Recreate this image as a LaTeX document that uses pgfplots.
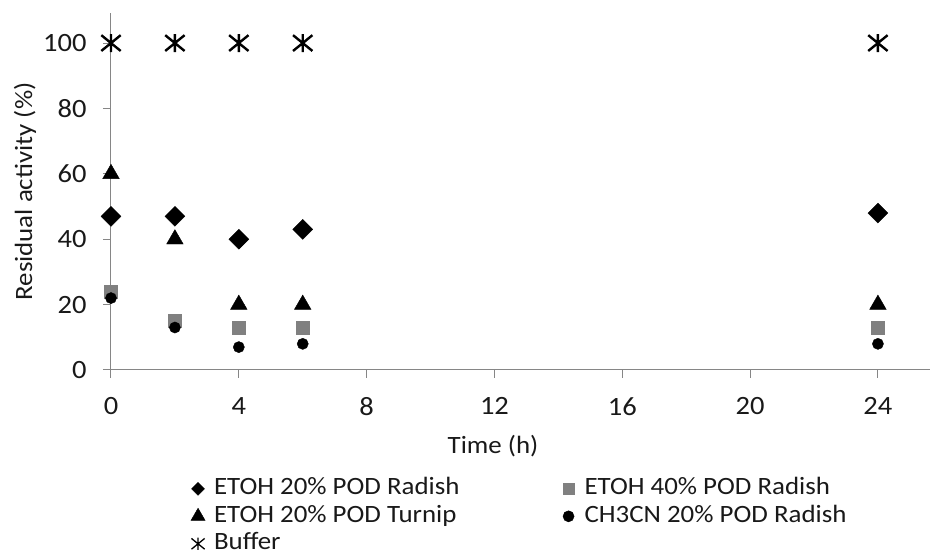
\documentclass[border=0pt]{standalone}
\usepackage{pgfplots}
\pgfplotsset{compat=1.18}
\usepackage{fontspec}
\setmainfont{Carlito}[FakeStretch=1.08]
\definecolor{axgray}{RGB}{134,134,134}
\definecolor{sqgray}{RGB}{128,128,128}
\definecolor{txt}{RGB}{25,25,25}
\pgfdeclareplotmark{buf}{%
  \pgfpathmoveto{\pgfqpoint{0pt}{\pgfplotmarksize}}%
  \pgfpathlineto{\pgfqpoint{0pt}{-\pgfplotmarksize}}%
  \pgfpathmoveto{\pgfqpoint{-1.08\pgfplotmarksize}{0.88\pgfplotmarksize}}%
  \pgfpathlineto{\pgfqpoint{1.08\pgfplotmarksize}{-0.88\pgfplotmarksize}}%
  \pgfpathmoveto{\pgfqpoint{-1.08\pgfplotmarksize}{-0.88\pgfplotmarksize}}%
  \pgfpathlineto{\pgfqpoint{1.08\pgfplotmarksize}{0.88\pgfplotmarksize}}%
  \pgfusepathqstroke}
\begin{document}
\fontsize{25}{30}\selectfont
\begin{tikzpicture}[x=1bp,y=1bp]
\path[use as bounding box] (-111,-185) rectangle (819,370);
\begin{axis}[
  at={(0,0)}, anchor=south west, scale only axis,
  width=819bp, height=357bp,
  xmin=0, xmax=25.63, ymin=0, ymax=109.2,
  axis x line*=bottom, axis y line*=left,
  x axis line style={-}, y axis line style={-},
  axis line style={axgray, line width=1bp},
  tick align=outside, major tick length=8bp,
  tick style={axgray, line width=1bp},
  xtick={0,4,...,24}, ytick={0,20,...,100},
  /pgf/number format/assume math mode=true,
  ticklabel style={font=\fontsize{26.5}{30}\selectfont, text=txt},
  xticklabel style={yshift=-11bp},
  yticklabel style={xshift=-8bp},
  clip=false,
  xlabel={Time (h)}, ylabel={Residual activity (\%)},
  label style={font=\fontsize{25}{30}\selectfont, text=txt},
  xlabel style={at={(axis description cs:0.4665,-0.212)}, anchor=center},
  ylabel style={at={(axis description cs:-0.105,0.5)}, anchor=center},
  legend columns=2,
  legend cell align=left,
  legend style={draw=none, fill=none, inner sep=0pt, outer sep=0pt,
    at={(axis description cs:0.0977,-0.302)}, anchor=north west,
    font=\fontsize{25}{30}\selectfont, text=txt,
    nodes={inner sep=0pt, text height=17bp, text depth=5bp},
    row sep=5.5bp,
    /tikz/every even column/.append style={column sep=103bp}},
]
\addplot[only marks, mark=square*, mark size=7.07pt, mark options={rotate=45, fill=black, draw=black},
  legend image code/.code={\draw[/tikz/every mark/.append style={scale=0.65}] plot coordinates {(6bp,0bp)}; \path[draw=none,fill=none] (0,-5bp) (22bp,5bp);}]
  coordinates {(0,47)(2,47)(4,40)(6,43)(24,48)};
\addlegendentry{ETOH 20\% POD Radish}
\addplot[only marks, mark=square*, mark size=6.5pt, mark options={fill=sqgray, draw=sqgray}, color=sqgray,
  legend image code/.code={\draw[/tikz/every mark/.append style={scale=0.9}] plot coordinates {(6bp,0bp)}; \path[draw=none,fill=none] (0,-5bp) (22bp,5bp);}]
  coordinates {(0,24)(2,15)(4,13)(6,13)(24,13)};
\addlegendentry{ETOH 40\% POD Radish}
\addplot[only marks, mark=triangle*, mark size=9.6pt, mark options={fill=black, draw=black},
  legend image code/.code={\draw[/tikz/every mark/.append style={scale=0.85}] plot coordinates {(6bp,0bp)}; \path[draw=none,fill=none] (0,-5bp) (22bp,5bp);}]
  coordinates {(0,60)(2,40)(4,20)(6,20)(24,20)};
\addlegendentry{ETOH 20\% POD Turnip}
\addplot[only marks, mark=*, mark size=5.6pt, mark options={fill=black, draw=black},
  legend image code/.code={\draw[/tikz/every mark/.append style={scale=1}] plot coordinates {(6bp,0bp)}; \path[draw=none,fill=none] (0,-5bp) (22bp,5bp);}]
  coordinates {(0,22)(2,13)(4,7)(6,8)(24,8)};
\addlegendentry{CH3CN 20\% POD Radish}
\addplot[only marks, mark=buf, mark size=9pt, mark options={draw=black, line width=2.4bp},
  legend image code/.code={\draw[/tikz/every mark/.append style={scale=0.68, line width=1.3bp}] plot coordinates {(6bp,0bp)}; \path[draw=none,fill=none] (0,-5bp) (22bp,5bp);}]
  coordinates {(0,100)(2,100)(4,100)(6,100)(24,100)};
\addlegendentry{Buffer}
\end{axis}
\end{tikzpicture}
\end{document}
